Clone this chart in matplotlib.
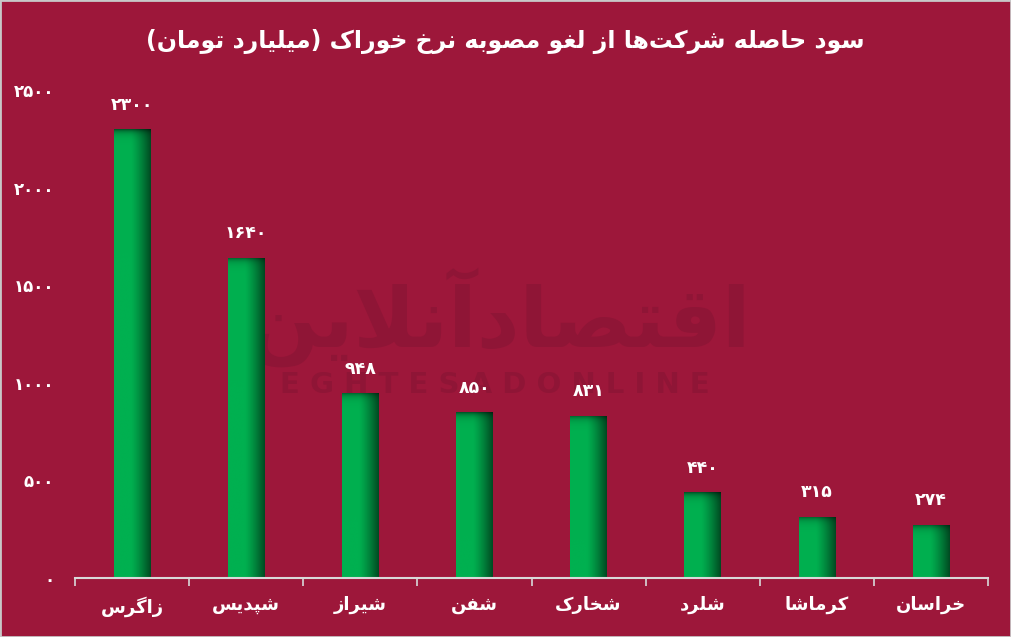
import numpy as np
import matplotlib
matplotlib.use('Agg')
import matplotlib.pyplot as plt
from matplotlib import font_manager, ft2font
from matplotlib.patches import Rectangle

# ---------------- data ----------------
categories = ['زاگرس', 'شپدیس', 'شیراز', 'شفن', 'شخارک', 'شلرد', 'کرماشا', 'خراسان']
values = [2300, 1640, 948, 850, 831, 440, 315, 274]
yticks = [0, 500, 1000, 1500, 2000, 2500]
title = 'سود حاصله شرکت\u200cها از لغو مصوبه نرخ خوراک (میلیارد تومان)'
watermark_fa = 'اقتصادآنلاین'
watermark_en = 'EGHTESADONLINE'

# ---------------- arabic shaping ----------------
FORMS = {
    '\u0627': ('\uFE8D', '\uFE8E', None, None),
    '\u0622': ('\uFE81', '\uFE82', None, None),
    '\u0628': ('\uFE8F', '\uFE90', '\uFE91', '\uFE92'),
    '\u062A': ('\uFE95', '\uFE96', '\uFE97', '\uFE98'),
    '\u062D': ('\uFEA1', '\uFEA2', '\uFEA3', '\uFEA4'),
    '\u062E': ('\uFEA5', '\uFEA6', '\uFEA7', '\uFEA8'),
    '\u062F': ('\uFEA9', '\uFEAA', None, None),
    '\u0631': ('\uFEAD', '\uFEAE', None, None),
    '\u0632': ('\uFEAF', '\uFEB0', None, None),
    '\u0633': ('\uFEB1', '\uFEB2', '\uFEB3', '\uFEB4'),
    '\u0634': ('\uFEB5', '\uFEB6', '\uFEB7', '\uFEB8'),
    '\u0635': ('\uFEB9', '\uFEBA', '\uFEBB', '\uFEBC'),
    '\u063A': ('\uFECD', '\uFECE', '\uFECF', '\uFED0'),
    '\u0641': ('\uFED1', '\uFED2', '\uFED3', '\uFED4'),
    '\u0642': ('\uFED5', '\uFED6', '\uFED7', '\uFED8'),
    '\u0644': ('\uFEDD', '\uFEDE', '\uFEDF', '\uFEE0'),
    '\u0645': ('\uFEE1', '\uFEE2', '\uFEE3', '\uFEE4'),
    '\u0646': ('\uFEE5', '\uFEE6', '\uFEE7', '\uFEE8'),
    '\u0647': ('\uFEE9', '\uFEEA', '\uFEEB', '\uFEEC'),
    '\u0648': ('\uFEED', '\uFEEE', None, None),
    '\u067E': ('\uFB56', '\uFB57', '\uFB58', '\uFB59'),
    '\u06A9': ('\uFB8E', '\uFB8F', '\uFB90', '\uFB91'),
    '\u06AF': ('\uFB92', '\uFB93', '\uFB94', '\uFB95'),
    '\u06CC': ('\uFBFC', '\uFBFD', '\uFBFE', '\uFBFF'),
}


def _dual(c):
    return c in FORMS and FORMS[c][2] is not None


def shape(text):
    chars = list(text)
    n = len(chars)
    res = []
    i = 0
    while i < n:
        c = chars[i]
        if c not in FORMS:
            if c != '\u200c':
                res.append(c)
            i += 1
            continue
        prev = chars[i - 1] if i > 0 else None
        cp = prev is not None and _dual(prev)
        if c == '\u0644' and i + 1 < n and chars[i + 1] == '\u0627':
            res.append('\uFEFC' if cp else '\uFEFB')
            i += 2
            continue
        nxt = chars[i + 1] if i + 1 < n else None
        cn = _dual(c) and nxt is not None and nxt in FORMS
        iso, fin, ini, med = FORMS[c]
        if cp and cn:
            g = med
        elif cp:
            g = fin
        elif cn:
            g = ini
        else:
            g = iso
        res.append(g)
        i += 1
    vis = ''.join(reversed(res))
    return vis.translate(str.maketrans('()', ')('))


FA_DIGITS = str.maketrans('0123456789', '۰۱۲۳۴۵۶۷۸۹')


def fa_num(v):
    return str(v).translate(FA_DIGITS)


# ---------------- font check ----------------
all_text = shape(title) + ''.join(shape(c) for c in categories) + '۰۱۲۳۴۵۶۷۸۹' + shape(watermark_fa)
weight = 'bold'
try:
    path = font_manager.findfont(font_manager.FontProperties(family='DejaVu Sans', weight='bold'))
    f = ft2font.FT2Font(path)
    if any(f.get_char_index(ord(ch)) == 0 for ch in set(all_text) if ch != ' '):
        weight = 'normal'
except Exception:
    weight = 'normal'

plt.rcParams['font.family'] = ['DejaVu Sans']

# ---------------- figure ----------------
BG = '#9D173A'
WM = '#8F1536'
W, H = 1011, 637
fig = plt.figure(figsize=(W / 100, H / 100), dpi=100, facecolor=BG)
ax = fig.add_axes([75 / W, 59 / H, (988 - 75) / W, (578 - 90) / H])
ax.set_facecolor(BG)

x = np.arange(len(categories))
bar_w = 0.32
base = np.array([0 / 255, 176 / 255, 80 / 255])

# watermark
ax.text(0.465, 0.535, shape(watermark_fa), transform=ax.transAxes, ha='center', va='center',
        fontsize=60, fontweight=weight, color=WM, zorder=0.5)
ax.text(0.46, 0.395, ' '.join(watermark_en), transform=ax.transAxes, ha='center', va='center',
        fontsize=21, fontweight='bold', color=WM, zorder=0.5)

bars = ax.bar(x, values, width=bar_w, color='#00B050', zorder=2)
for rect in bars:
    x0, w, h = rect.get_x(), rect.get_width(), rect.get_height()
    nx = 60
    ny = max(int(h / 2), 20)
    u = np.linspace(0, 1, nx)
    fx = np.where(u < 0.45, 1.0, 1.0 - 0.58 * ((u - 0.45) / 0.55) ** 1.3)
    yy = np.linspace(0, h, ny)
    ft = 1.0 - 0.55 * np.exp(-(h - yy) / 18.0)
    fac = ft[:, None] * fx[None, :]
    img = np.zeros((ny, nx, 3))
    for k in range(3):
        img[:, :, k] = base[k] * fac
    im = ax.imshow(img, extent=(x0, x0 + w, 0, h), origin='lower', aspect='auto',
                   interpolation='bilinear', zorder=2.1)
    im.set_clip_path(rect)

for xi, v in zip(x, values):
    ax.annotate(fa_num(v), (xi, v), xytext=(0, 14), textcoords='offset points',
                ha='center', va='baseline', fontsize=12.5, fontweight='bold', color='white', zorder=3)

ax.set_xlim(-0.5, len(categories) - 0.5)
ax.set_ylim(0, 2500)

ax.set_xticks(x)
ax.set_xticklabels([shape(c) for c in categories], fontsize=13, fontweight=weight, color='white')
ax.set_xticks(np.arange(-0.5, len(categories)), minor=True)
ax.tick_params(axis='x', which='major', length=0, pad=13)
ax.tick_params(axis='x', which='minor', length=6, width=1.2, color='#D9D9D9', direction='out')

ax.set_yticks(yticks)
ax.set_yticklabels([fa_num(t) for t in yticks], fontsize=12, fontweight='bold', color='white')
ax.tick_params(axis='y', length=0, pad=15)

for s in ['top', 'right', 'left']:
    ax.spines[s].set_visible(False)
ax.spines['bottom'].set_color('#D9D9D9')
ax.spines['bottom'].set_linewidth(1.5)
ax.spines['bottom'].set_zorder(4)

fig.text(0.5, 1 - 42 / H, shape(title), ha='center', va='center', fontsize=17,
         fontweight=weight, color='white')

fig.patches.append(Rectangle((0, 0), 1, 1, transform=fig.transFigure, fill=False,
                             edgecolor='#C8C8C8', linewidth=2))

fig.savefig('out.png', dpi=100, facecolor=BG)
